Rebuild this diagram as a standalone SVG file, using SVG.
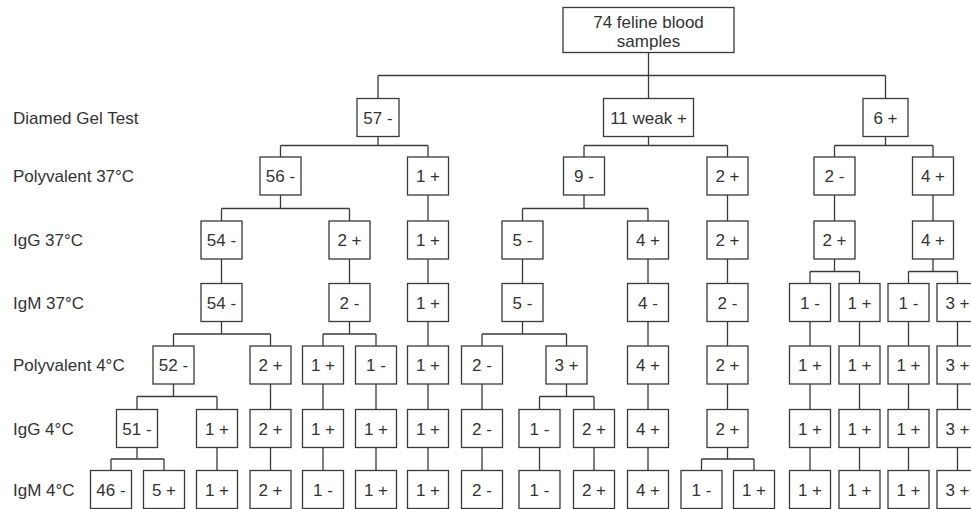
<svg xmlns="http://www.w3.org/2000/svg" width="971" height="509" viewBox="0 0 971 509">
<style>
rect{fill:#fff;stroke:#3a3a3a;stroke-width:1.3}
text{font-family:"Liberation Sans",Arial,sans-serif;font-size:17px;fill:#333}
.c{text-anchor:middle}
#edges path{fill:none;stroke:#3a3a3a;stroke-width:1.3}
</style>
<rect x="0" y="0" width="971" height="509" style="stroke:none;fill:#fff"/>
<g id="labels">
<text x="13" y="123.5">Diamed Gel Test</text>
<text x="13" y="182">Polyvalent 37°C</text>
<text x="13" y="246">IgG 37°C</text>
<text x="13" y="308.5">IgM 37°C</text>
<text x="13" y="371">Polyvalent 4°C</text>
<text x="13" y="434.5">IgG 4°C</text>
<text x="13" y="495.5">IgM 4°C</text>
</g>
<g id="edges">
<path d="M648.5,52.5V75.5M378,75.5H885.5M378,75.5V98.5M648.5,75.5V98.5M885.5,75.5V98.5"/>
<path d="M378,136.5V145.5M280.5,145.5H428M280.5,145.5V157M428,145.5V157"/>
<path d="M648.5,136.5V145.5M584,145.5H727.5M584,145.5V157M727.5,145.5V157"/>
<path d="M885.5,136.5V145.5M834.5,145.5H933M834.5,145.5V157M933,145.5V157"/>
<path d="M280.5,195V208.5M221.5,208.5H349.5M221.5,208.5V221M349.5,208.5V221"/>
<path d="M584,195V208.5M522.5,208.5H648M522.5,208.5V221M648,208.5V221"/>
<path d="M428,195V221M727.5,195V221M834.5,195V221M933,195V221"/>
<path d="M221.5,259V283.5M349.5,259V283.5M428,259V283.5M522.5,259V283.5M648,259V283.5M727.5,259V283.5"/>
<path d="M834.5,259V271.5M810,271.5H859.5M810,271.5V283.5M859.5,271.5V283.5"/>
<path d="M933,259V271.5M908.5,271.5H957.5M908.5,271.5V283.5M957.5,271.5V283.5"/>
<path d="M221.5,321.5V334M173.5,334H270.5M173.5,334V346M270.5,334V346"/>
<path d="M349.5,321.5V334M323,334H376M323,334V346M376,334V346"/>
<path d="M522.5,321.5V334M482,334H566.5M482,334V346M566.5,334V346"/>
<path d="M428,321.5V346M648,321.5V346M727.5,321.5V346M810,321.5V346M859.5,321.5V346M908.5,321.5V346M957.5,321.5V346"/>
<path d="M173.5,384V396.5M137,396.5H217M137,396.5V409.5M217,396.5V409.5"/>
<path d="M566.5,384V396.5M539.5,396.5H594M539.5,396.5V409.5M594,396.5V409.5"/>
<path d="M270.5,384V409.5M323,384V409.5M376,384V409.5M428,384V409.5M482,384V409.5M648,384V409.5M727.5,384V409.5M810,384V409.5M859.5,384V409.5M908.5,384V409.5M957.5,384V409.5"/>
<path d="M137,447.5V459M111,459H164M111,459V470.5M164,459V470.5"/>
<path d="M727.5,447.5V459M701.5,459H754M701.5,459V470.5M754,459V470.5"/>
<path d="M217,447.5V470.5M270.5,447.5V470.5M323,447.5V470.5M376,447.5V470.5M428,447.5V470.5M482,447.5V470.5M539.5,447.5V470.5M594,447.5V470.5M648,447.5V470.5M810,447.5V470.5M859.5,447.5V470.5M908.5,447.5V470.5M957.5,447.5V470.5"/>
</g>
<g id="root"><rect x="563" y="7.5" width="171" height="45"/><text class="c" x="648.5" y="27.5">74 feline blood</text><text class="c" x="648.5" y="46.5">samples</text></g>
<g id="r1a"><rect x="357" y="98.5" width="42" height="38"/><text class="c" x="378" y="123.5">57 -</text></g>
<g id="r1b"><rect x="603.5" y="98.5" width="90" height="38"/><text class="c" x="648.5" y="123.5">11 weak +</text></g>
<g id="r1c"><rect x="863" y="98.5" width="45" height="38"/><text class="c" x="885.5" y="123.5">6 +</text></g>
<g id="r2a"><rect x="260" y="157" width="41" height="38"/><text class="c" x="280.5" y="182">56 -</text></g>
<g id="r2b"><rect x="407.5" y="157" width="41" height="38"/><text class="c" x="428" y="182">1 +</text></g>
<g id="r2c"><rect x="563.5" y="157" width="41" height="38"/><text class="c" x="584" y="182">9 -</text></g>
<g id="r2d"><rect x="707" y="157" width="41" height="38"/><text class="c" x="727.5" y="182">2 +</text></g>
<g id="r2e"><rect x="814" y="157" width="41" height="38"/><text class="c" x="834.5" y="182">2 -</text></g>
<g id="r2f"><rect x="912.5" y="157" width="41" height="38"/><text class="c" x="933" y="182">4 +</text></g>
<g id="r3a"><rect x="201" y="221" width="41" height="38"/><text class="c" x="221.5" y="246">54 -</text></g>
<g id="r3b"><rect x="329" y="221" width="41" height="38"/><text class="c" x="349.5" y="246">2 +</text></g>
<g id="r3c"><rect x="407.5" y="221" width="41" height="38"/><text class="c" x="428" y="246">1 +</text></g>
<g id="r3d"><rect x="502" y="221" width="41" height="38"/><text class="c" x="522.5" y="246">5 -</text></g>
<g id="r3e"><rect x="627.5" y="221" width="41" height="38"/><text class="c" x="648" y="246">4 +</text></g>
<g id="r3f"><rect x="707" y="221" width="41" height="38"/><text class="c" x="727.5" y="246">2 +</text></g>
<g id="r3g"><rect x="814" y="221" width="41" height="38"/><text class="c" x="834.5" y="246">2 +</text></g>
<g id="r3h"><rect x="912.5" y="221" width="41" height="38"/><text class="c" x="933" y="246">4 +</text></g>
<g id="r4a"><rect x="201" y="283.5" width="41" height="38"/><text class="c" x="221.5" y="308.5">54 -</text></g>
<g id="r4b"><rect x="329" y="283.5" width="41" height="38"/><text class="c" x="349.5" y="308.5">2 -</text></g>
<g id="r4c"><rect x="407.5" y="283.5" width="41" height="38"/><text class="c" x="428" y="308.5">1 +</text></g>
<g id="r4d"><rect x="502" y="283.5" width="41" height="38"/><text class="c" x="522.5" y="308.5">5 -</text></g>
<g id="r4e"><rect x="627.5" y="283.5" width="41" height="38"/><text class="c" x="648" y="308.5">4 -</text></g>
<g id="r4f"><rect x="707" y="283.5" width="41" height="38"/><text class="c" x="727.5" y="308.5">2 -</text></g>
<g id="r4g"><rect x="789.5" y="283.5" width="41" height="38"/><text class="c" x="810" y="308.5">1 -</text></g>
<g id="r4h"><rect x="839" y="283.5" width="41" height="38"/><text class="c" x="859.5" y="308.5">1 +</text></g>
<g id="r4i"><rect x="888" y="283.5" width="41" height="38"/><text class="c" x="908.5" y="308.5">1 -</text></g>
<g id="r4j"><rect x="937" y="283.5" width="41" height="38"/><text class="c" x="957.5" y="308.5">3 +</text></g>
<g id="r5a"><rect x="153" y="346" width="41" height="38"/><text class="c" x="173.5" y="371">52 -</text></g>
<g id="r5b"><rect x="250" y="346" width="41" height="38"/><text class="c" x="270.5" y="371">2 +</text></g>
<g id="r5c"><rect x="302.5" y="346" width="41" height="38"/><text class="c" x="323" y="371">1 +</text></g>
<g id="r5d"><rect x="355.5" y="346" width="41" height="38"/><text class="c" x="376" y="371">1 -</text></g>
<g id="r5e"><rect x="407.5" y="346" width="41" height="38"/><text class="c" x="428" y="371">1 +</text></g>
<g id="r5f"><rect x="461.5" y="346" width="41" height="38"/><text class="c" x="482" y="371">2 -</text></g>
<g id="r5g"><rect x="546" y="346" width="41" height="38"/><text class="c" x="566.5" y="371">3 +</text></g>
<g id="r5h"><rect x="627.5" y="346" width="41" height="38"/><text class="c" x="648" y="371">4 +</text></g>
<g id="r5i"><rect x="707" y="346" width="41" height="38"/><text class="c" x="727.5" y="371">2 +</text></g>
<g id="r5j"><rect x="789.5" y="346" width="41" height="38"/><text class="c" x="810" y="371">1 +</text></g>
<g id="r5k"><rect x="839" y="346" width="41" height="38"/><text class="c" x="859.5" y="371">1 +</text></g>
<g id="r5l"><rect x="888" y="346" width="41" height="38"/><text class="c" x="908.5" y="371">1 +</text></g>
<g id="r5m"><rect x="937" y="346" width="41" height="38"/><text class="c" x="957.5" y="371">3 +</text></g>
<g id="r6a"><rect x="116.5" y="409.5" width="41" height="38"/><text class="c" x="137" y="434.5">51 -</text></g>
<g id="r6b"><rect x="196.5" y="409.5" width="41" height="38"/><text class="c" x="217" y="434.5">1 +</text></g>
<g id="r6c"><rect x="250" y="409.5" width="41" height="38"/><text class="c" x="270.5" y="434.5">2 +</text></g>
<g id="r6d"><rect x="302.5" y="409.5" width="41" height="38"/><text class="c" x="323" y="434.5">1 +</text></g>
<g id="r6e"><rect x="355.5" y="409.5" width="41" height="38"/><text class="c" x="376" y="434.5">1 +</text></g>
<g id="r6f"><rect x="407.5" y="409.5" width="41" height="38"/><text class="c" x="428" y="434.5">1 +</text></g>
<g id="r6g"><rect x="461.5" y="409.5" width="41" height="38"/><text class="c" x="482" y="434.5">2 -</text></g>
<g id="r6h"><rect x="519" y="409.5" width="41" height="38"/><text class="c" x="539.5" y="434.5">1 -</text></g>
<g id="r6i"><rect x="573.5" y="409.5" width="41" height="38"/><text class="c" x="594" y="434.5">2 +</text></g>
<g id="r6j"><rect x="627.5" y="409.5" width="41" height="38"/><text class="c" x="648" y="434.5">4 +</text></g>
<g id="r6k"><rect x="707" y="409.5" width="41" height="38"/><text class="c" x="727.5" y="434.5">2 +</text></g>
<g id="r6l"><rect x="789.5" y="409.5" width="41" height="38"/><text class="c" x="810" y="434.5">1 +</text></g>
<g id="r6m"><rect x="839" y="409.5" width="41" height="38"/><text class="c" x="859.5" y="434.5">1 +</text></g>
<g id="r6n"><rect x="888" y="409.5" width="41" height="38"/><text class="c" x="908.5" y="434.5">1 +</text></g>
<g id="r6o"><rect x="937" y="409.5" width="41" height="38"/><text class="c" x="957.5" y="434.5">3 +</text></g>
<g id="r7a"><rect x="90.5" y="470.5" width="41" height="38"/><text class="c" x="111" y="495.5">46 -</text></g>
<g id="r7b"><rect x="143.5" y="470.5" width="41" height="38"/><text class="c" x="164" y="495.5">5 +</text></g>
<g id="r7c"><rect x="196.5" y="470.5" width="41" height="38"/><text class="c" x="217" y="495.5">1 +</text></g>
<g id="r7d"><rect x="250" y="470.5" width="41" height="38"/><text class="c" x="270.5" y="495.5">2 +</text></g>
<g id="r7e"><rect x="302.5" y="470.5" width="41" height="38"/><text class="c" x="323" y="495.5">1 -</text></g>
<g id="r7f"><rect x="355.5" y="470.5" width="41" height="38"/><text class="c" x="376" y="495.5">1 +</text></g>
<g id="r7g"><rect x="407.5" y="470.5" width="41" height="38"/><text class="c" x="428" y="495.5">1 +</text></g>
<g id="r7h"><rect x="461.5" y="470.5" width="41" height="38"/><text class="c" x="482" y="495.5">2 -</text></g>
<g id="r7i"><rect x="519" y="470.5" width="41" height="38"/><text class="c" x="539.5" y="495.5">1 -</text></g>
<g id="r7j"><rect x="573.5" y="470.5" width="41" height="38"/><text class="c" x="594" y="495.5">2 +</text></g>
<g id="r7k"><rect x="627.5" y="470.5" width="41" height="38"/><text class="c" x="648" y="495.5">4 +</text></g>
<g id="r7l"><rect x="681" y="470.5" width="41" height="38"/><text class="c" x="701.5" y="495.5">1 -</text></g>
<g id="r7m"><rect x="733.5" y="470.5" width="41" height="38"/><text class="c" x="754" y="495.5">1 +</text></g>
<g id="r7n"><rect x="789.5" y="470.5" width="41" height="38"/><text class="c" x="810" y="495.5">1 +</text></g>
<g id="r7o"><rect x="839" y="470.5" width="41" height="38"/><text class="c" x="859.5" y="495.5">1 +</text></g>
<g id="r7p"><rect x="888" y="470.5" width="41" height="38"/><text class="c" x="908.5" y="495.5">1 +</text></g>
<g id="r7q"><rect x="937" y="470.5" width="41" height="38"/><text class="c" x="957.5" y="495.5">3 +</text></g>
</svg>
